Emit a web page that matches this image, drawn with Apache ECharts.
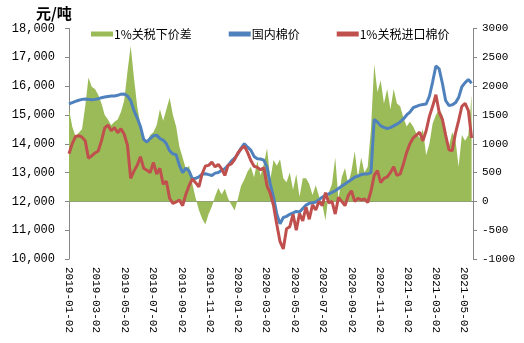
<!DOCTYPE html>
<html>
<head>
<meta charset="utf-8">
<script src="https://cdn.jsdelivr.net/npm/echarts@6/dist/echarts.min.js"></script>
<style>
  html, body { margin: 0; padding: 0; background: #fff; }
  #chart { width: 524px; height: 343px; }
</style>
</head>
<body>
<div id="chart"></div>
<script>
// Weekly samples, first one on 2019-01-02
const seriesNames = ['1%关税下价差', '国内棉价', '1%关税进口棉价'];

// 1%关税下价差 (right axis, 元/吨)
const spread = [
  1600, 1300, 1130, 1190, 1250, 1650, 2150, 1990, 1950, 1850,
  1700, 1500, 1420, 1320, 1380, 1420, 1550, 1750, 2250, 2700,
  2150, 1650, 1320, 1070, 1030, 1150, 1200, 1320, 1600, 1400,
  1600, 1800, 1500, 1300, 950, 760, 560, 620, 300, 60,
  -150, -300, -400, -220, -90, 90, 230, 120, 220, 50,
  -60, -160, 40, 270, 380, 520, 600, 420, 700, 450,
  650, 920, 380, 720, 620, 730, 400, 330, 500, 200,
  470, 80, 400, 400, 300, 110, 280, 90, -50, -330,
  150, 300, 760, 40, 420, 580, 300, 530, 870, 420,
  760, 500, 600, 1250, 2380, 1900, 2100, 1700, 1950, 1600,
  1950, 1700, 1650, 1450, 1300, 1380, 1300, 1180, 1100, 1250,
  800, 1000, 1350, 1500, 1600, 1500, 1250, 950, 1200, 1080,
  600, 1150, 1050, 1150, 1850
];

// 国内棉价 (left axis, 元/吨)
const domestic = [
  15380, 15430, 15470, 15510, 15540, 15550, 15540, 15530, 15540, 15560,
  15600, 15620, 15640, 15660, 15660, 15680, 15720, 15730, 15660, 15500,
  15150, 14900, 14600, 14150, 14060, 14180, 14280, 14300, 14180, 14130,
  14000, 13750, 13650, 13620, 13250, 13000, 13150, 13050, 12780, 12800,
  12850, 12950, 12960, 12930, 12900, 12980, 13000, 13080, 13130, 13250,
  13400, 13500, 13640, 13850, 14000, 13880, 13780, 13560, 13480, 13470,
  13430, 13180, 12600, 12140, 11560, 11220, 11440, 11480, 11550, 11600,
  11650, 11630, 11750, 11870, 11930, 11950, 11980, 12060, 12150, 12200,
  12260, 12310, 12370, 12450, 12530, 12600, 12680, 12760, 12840, 12880,
  12930, 12950, 12950, 13000, 14850, 14750, 14620, 14570, 14530, 14560,
  14620, 14680, 14760, 14860, 15000, 15100, 15250, 15300, 15340, 15360,
  15380, 15650, 16150, 16700, 16600, 16100, 15500, 15330, 15350, 15420,
  15600, 15980, 16120, 16230, 16100
];

// 1%关税进口棉价 (left axis, 元/吨)
const imported = [
  13650, 14000, 14250, 14280, 14230, 14100, 13500, 13580, 13680, 13750,
  14100, 14550, 14650, 14450, 14560, 14380, 14520, 14330, 13950, 12800,
  13050, 13250, 13550, 13150, 13080, 13000, 13350, 12950, 13150, 12600,
  12700, 12100, 11930, 11980, 12050, 11850, 12250, 12550, 12780, 12650,
  12500, 12950, 13230, 13250, 13360, 13200, 13280, 13130, 12900, 13250,
  13300, 13450, 13680, 13820, 13920, 13700, 13420, 13220, 13180, 13100,
  13170, 12530, 12280, 11850, 11200, 10600, 10350, 11050, 11120, 11550,
  11000, 11580, 11320, 11800, 11380, 11880, 11700, 12000, 11850, 12300,
  11950, 12000, 11560, 12140, 12000, 11850, 12200, 12370, 12000, 12100,
  12050, 12080, 11960, 12350, 12900, 13070, 12650, 12800, 12850, 13000,
  13200, 12900, 12950, 13300, 13700, 14000, 14200, 14300, 14400, 14100,
  14450, 14950, 15300, 15700, 15100, 14850, 14300, 13800, 13750, 14350,
  14800, 15300, 15400, 15150, 14200
];

// Calendar days along the x axis
function fmt(t) {
  const d = new Date(t);
  const m = d.getUTCMonth() + 1, day = d.getUTCDate();
  return d.getUTCFullYear() + '-' + (m < 10 ? '0' : '') + m + '-' + (day < 10 ? '0' : '') + day;
}
const DAY = 86400000;
const t0 = Date.UTC(2019, 0, 2), t1 = Date.UTC(2021, 4, 22);
const days = [];
for (let t = t0; t <= t1; t += DAY) days.push(fmt(t));

// Sample i sits on the calendar day 7*i after the start
const pairs = arr => arr.map((v, i) => [days[i * 7], v]);

// Axis labels every second month on the 2nd
const showLabel = (idx, val) => {
  const p = val.split('-');
  return p[2] === '02' && (parseInt(p[1], 10) % 2 === 1);
};

const axisGray = '#868686';
const numFont = 'Liberation Mono';

const chart = echarts.init(document.getElementById('chart'), null, { renderer: 'canvas' });
chart.setOption({
  animation: false,
  backgroundColor: '#fff',
  graphic: [{
    type: 'text', left: 36, top: 6,
    style: { text: '元/吨', font: 'bold 15px "Noto Sans CJK SC"', fill: '#000' }
  }],
  legend: {
    left: 86, top: 23,
    itemWidth: 22, itemHeight: 5, itemGap: 37,
    icon: 'rect',
    textStyle: { fontSize: 12, color: '#000', fontFamily: 'Noto Sans CJK SC', padding: [0, 0, 0, -4] },
    data: seriesNames.map(n => ({ name: n, icon: 'rect' }))
  },
  grid: { left: 69, right: 51, top: 28.5, bottom: 84 },
  xAxis: {
    type: 'category',
    data: days,
    boundaryGap: false,
    axisLine: { lineStyle: { color: axisGray, width: 1 } },
    axisTick: { show: false },
    axisLabel: {
      interval: showLabel, rotate: -90, margin: 8,
      color: '#000', fontSize: 11, fontFamily: numFont
    },
    splitLine: { show: false }
  },
  yAxis: [{
    type: 'value', min: 10000, max: 18000, interval: 1000,
    axisLine: { show: true, lineStyle: { color: axisGray } },
    axisTick: { show: true, length: 4, lineStyle: { color: axisGray } },
    axisLabel: {
      margin: 14, color: '#000', fontSize: 12, fontFamily: numFont,
      formatter: v => v.toLocaleString('en-US')
    },
    splitLine: { show: false }
  }, {
    type: 'value', min: -1000, max: 3000, interval: 500,
    position: 'right',
    axisLine: { show: true, lineStyle: { color: axisGray } },
    axisTick: { show: true, length: 4, lineStyle: { color: axisGray } },
    axisLabel: {
      margin: 9, color: '#000', fontSize: 11, fontFamily: numFont,
      formatter: v => String(v)
    },
    splitLine: { show: false }
  }],
  series: [{
    name: seriesNames[0], type: 'line', yAxisIndex: 1,
    data: pairs(spread), showSymbol: false, symbol: 'none',
    lineStyle: { width: 0, color: '#9BBB59' },
    itemStyle: { color: '#9BBB59' },
    areaStyle: { color: '#9BBB59', opacity: 1 },
    z: 1
  }, {
    name: seriesNames[1], type: 'line', yAxisIndex: 0,
    data: pairs(domestic), showSymbol: false, symbol: 'none',
    lineStyle: { width: 3, color: '#4F81BD' },
    itemStyle: { color: '#4F81BD' },
    z: 2
  }, {
    name: seriesNames[2], type: 'line', yAxisIndex: 0,
    data: pairs(imported), showSymbol: false, symbol: 'none',
    lineStyle: { width: 3, color: '#C0504D' },
    itemStyle: { color: '#C0504D' },
    z: 3
  }]
});
</script>
</body>
</html>
